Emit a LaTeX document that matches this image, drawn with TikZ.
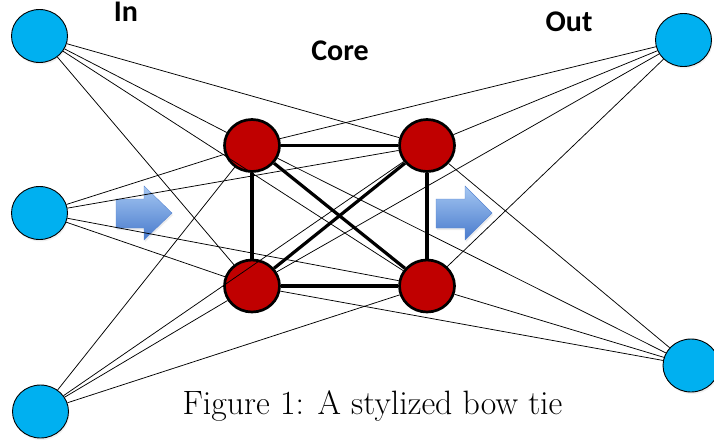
\documentclass[tikz,border=0pt]{standalone}
\usepackage{fontspec}
\newfontfamily\labfont{Carlito}
\usetikzlibrary{shapes.geometric,shadows}
\definecolor{inout}{HTML}{00B0F0}
\definecolor{core}{HTML}{C00000}
\definecolor{arrtop}{RGB}{165,199,242}
\definecolor{arrbot}{RGB}{72,122,204}
\definecolor{arredge}{RGB}{90,135,210}
\tikzset{
  bluenode/.style={ellipse, draw=black, line width=0.9pt, fill=inout,
    minimum width=56pt, minimum height=53pt, inner sep=0pt,
    drop shadow={opacity=0.12, shadow xshift=1pt, shadow yshift=-2pt}},
  rednode/.style={ellipse, draw=black, line width=2.7pt, fill=core,
    minimum width=55pt, minimum height=52pt, inner sep=0pt},
  thin/.style={line width=0.75pt, black},
  thick/.style={line width=3.2pt, black},
  label/.style={font=\labfont\bfseries\fontsize{30}{31}\selectfont, anchor=base, inner sep=0pt},
  caption/.style={font=\fontsize{33.8}{35}\selectfont, anchor=base, inner sep=0pt},
  blockarrow/.style={top color=arrtop, bottom color=arrbot, draw=arredge, line width=0.4pt,
    drop shadow={opacity=0.15, shadow xshift=1pt, shadow yshift=-2pt}}
}
\begin{document}
\begin{tikzpicture}[x=1pt,y=-1pt]
\useasboundingbox (0,0) rectangle (714,445);
% block arrows
\path[blockarrow] (116,199) -- (144,199) -- (144,186) -- (172,213) -- (144,240) -- (144,228) -- (116,228) -- cycle;
\path[blockarrow] (436,199) -- (465,199) -- (465,186) -- (492,213) -- (465,240) -- (465,228) -- (436,228) -- cycle;
% in nodes
\node[bluenode] (i1) at (39.5,36) {};
\node[bluenode] (i2) at (39.5,213) {};
\node[bluenode] (i3) at (40.5,411.5) {};
% out nodes
\node[bluenode] (o1) at (683.5,40) {};
\node[bluenode] (o2) at (691,365.5) {};
% core nodes
\node[rednode] (c1) at (252,145.5) {};
\node[rednode] (c2) at (427,145.5) {};
\node[rednode] (c3) at (252,286) {};
\node[rednode] (c4) at (427,286) {};
% thin connectors
\foreach \a in {i1,i2,i3}{
  \foreach \b in {c1,c2,c3,c4}{
    \draw[thin] (\a) -- (\b);
  }
}
\foreach \a in {c1,c2,c3,c4}{
  \foreach \b in {o1,o2}{
    \draw[thin] (\a) -- (\b);
  }
}
% core connectors
\draw[thick] (c1) -- (c2);
\draw[thick] (c3) -- (c4);
\draw[thick] (c1) -- (c3);
\draw[thick] (c2) -- (c4);
\draw[thick] (c1) -- (c4);
\draw[thick] (c2) -- (c3);
% labels
\node[label] (lin) at (126,21) {In};
\node[label] (lcore) at (340,60) {Core};
\node[label] (lout) at (569,31) {Out};
\node[caption] (cap) at (372.5,414) {Figure 1: A stylized bow tie};
\end{tikzpicture}
\end{document}
